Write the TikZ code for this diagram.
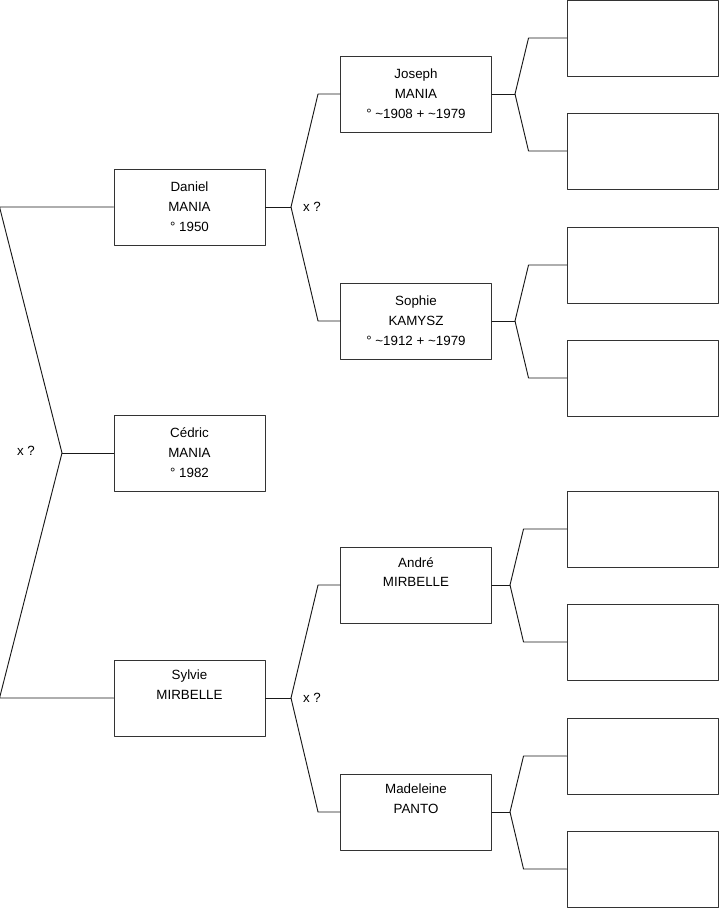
\documentclass[tikz,border=0pt]{standalone}
\usepackage{fontspec}
\setmainfont{Liberation Sans}
\usetikzlibrary{calc}

\begin{document}
\begin{tikzpicture}[x=0.03cm, y=-0.03cm, line cap=round, line join=round,
  person/.style={draw=black!80, line width=0.8pt, minimum width=4.53cm, minimum height=2.28cm,
    inner sep=0pt, align=center, font=\fontsize{11.4}{17}\selectfont},
  link/.style={draw=black!90, line width=0.8pt},
  union/.style={inner sep=0pt, font=\fontsize{11.4}{13}\selectfont}]

\useasboundingbox (0,0) rectangle (719,908);

% generation 1
\node[person] (daniel) at (189.5,207) {Daniel\\MANIA\\° 1950};
\node[person] (cedric) at (189.5,453) {Cédric\\MANIA\\° 1982};
\node[person] (sylvie) at (189.5,698) {Sylvie\\MIRBELLE\\\strut};

% generation 2
\node[person] (joseph) at (416,94) {Joseph\\MANIA\\° \textasciitilde1908 + \textasciitilde1979};
\node[person] (sophie) at (416,321) {Sophie\\KAMYSZ\\° \textasciitilde1912 + \textasciitilde1979};
\node[person] (andre) at (416,585) {André\\MIRBELLE\\\strut};
\node[person] (madeleine) at (416,812) {Madeleine\\PANTO\\\strut};

% generation 3
\node[person] (g1) at (642.5,38) {};
\node[person] (g2) at (642.5,151) {};
\node[person] (g3) at (642.5,265) {};
\node[person] (g4) at (642.5,378) {};
\node[person] (g5) at (642.5,529) {};
\node[person] (g6) at (642.5,642) {};
\node[person] (g7) at (642.5,756) {};
\node[person] (g8) at (642.5,869) {};

% junctions
\coordinate (jc) at (62,453);
\coordinate (jd) at (291,207);
\coordinate (js) at (291,698);
\coordinate (jj) at (515,94);
\coordinate (jso) at (515,321);
\coordinate (ja) at (510,585);
\coordinate (jm) at (510,812);

\node[union] (xc) at (26,451) {x ?};
\node[union] (xd) at (312,207) {x ?};
\node[union] (xs) at (312,698) {x ?};

% links
\draw[link] (cedric.west) -- (jc);
\draw[link] (jc) -- ($(daniel.west)+(-114,0)$) -- (daniel.west);
\draw[link] (jc) -- ($(sylvie.west)+(-114,0)$) -- (sylvie.west);

\draw[link] (daniel.east) -- (jd);
\draw[link] (jd) -- ($(joseph.west)+(-22,0)$) -- (joseph.west);
\draw[link] (jd) -- ($(sophie.west)+(-22,0)$) -- (sophie.west);
\draw[link] (sylvie.east) -- (js);
\draw[link] (js) -- ($(andre.west)+(-22,0)$) -- (andre.west);
\draw[link] (js) -- ($(madeleine.west)+(-22,0)$) -- (madeleine.west);

\draw[link] (joseph.east) -- (jj);
\draw[link] (jj) -- ($(g1.west)+(-38,0)$) -- (g1.west);
\draw[link] (jj) -- ($(g2.west)+(-38,0)$) -- (g2.west);
\draw[link] (sophie.east) -- (jso);
\draw[link] (jso) -- ($(g3.west)+(-38,0)$) -- (g3.west);
\draw[link] (jso) -- ($(g4.west)+(-38,0)$) -- (g4.west);
\draw[link] (andre.east) -- (ja);
\draw[link] (ja) -- ($(g5.west)+(-43,0)$) -- (g5.west);
\draw[link] (ja) -- ($(g6.west)+(-43,0)$) -- (g6.west);
\draw[link] (madeleine.east) -- (jm);
\draw[link] (jm) -- ($(g7.west)+(-43,0)$) -- (g7.west);
\draw[link] (jm) -- ($(g8.west)+(-43,0)$) -- (g8.west);

\end{tikzpicture}
\end{document}
